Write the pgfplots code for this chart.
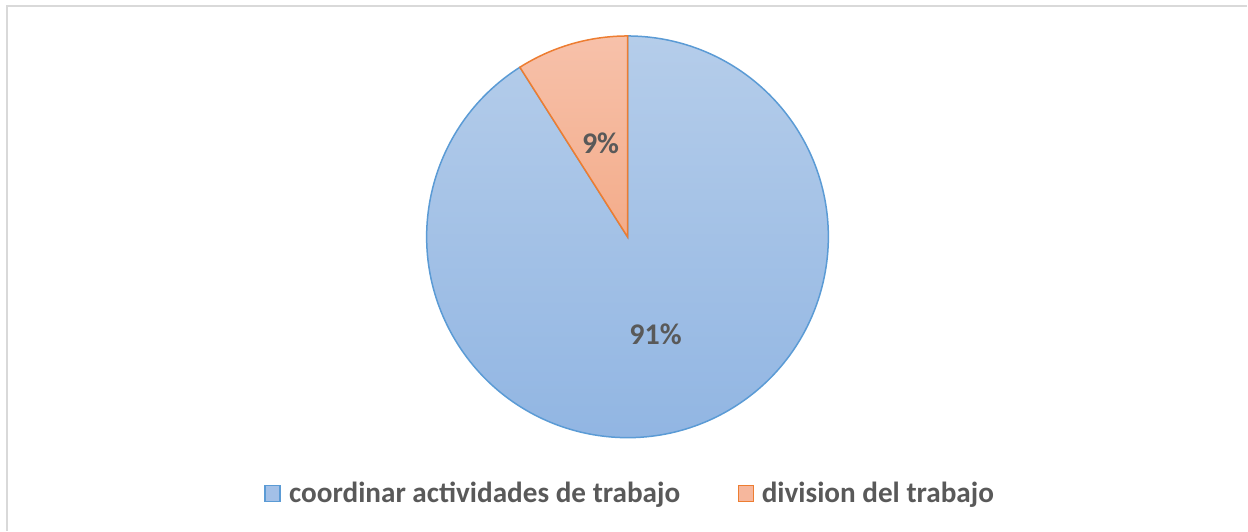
\documentclass[border=0pt]{standalone}
\usepackage{fontspec}
\setmainfont{Carlito}
\usepackage{pgfplots}
\usepackage{pgfplotstable}
\pgfplotsset{compat=1.18}
\definecolor{blueE}{HTML}{5B9BD5}
\definecolor{blueT}{RGB}{181,205,234}
\definecolor{blueB}{RGB}{143,180,226}
\definecolor{blueL}{RGB}{163,192,231}
\definecolor{orE}{HTML}{ED7D31}
\definecolor{orT}{RGB}{247,193,170}
\definecolor{orB}{RGB}{243,172,138}
\definecolor{orL}{RGB}{246,183,157}
\definecolor{txt}{HTML}{595959}
\definecolor{brd}{HTML}{D9D9D9}
\pgfplotstableread{
label value
coord 91
div 9
}\piedata
\pgfplotstablegetelem{0}{value}\of\piedata \let\va\pgfplotsretval
\pgfplotstablegetelem{1}{value}\of\piedata \let\vb\pgfplotsretval
\pgfmathsetmacro{\angB}{90+\vb*360/(\va+\vb)}
\begin{document}
\begin{tikzpicture}
\begin{axis}[width=624pt,height=265.5pt,scale only axis,
  xmin=0,xmax=1248,ymin=0,ymax=531,hide axis,clip=false]
\path (axis cs:0,0) rectangle (axis cs:1248,531);
\draw[brd,line width=1pt] (axis cs:1248,525) -- (axis cs:7,525) -- (axis cs:7,0);
% pie
\path[draw=blueE,line width=0.75pt,top color=blueT,bottom color=blueB]
  (axis cs:628,294) -- ++(\angB:100.5pt) arc[start angle=\angB,end angle=450,radius=100.5pt] -- cycle;
\path[draw=orE,line width=0.75pt,top color=orT,bottom color=orB]
  (axis cs:628,294) -- ++(90:100.5pt) arc[start angle=90,end angle=\angB,radius=100.5pt] -- cycle;
\node[font=\bfseries\fontsize{15}{18}\selectfont,text=txt] at (axis cs:601,388) {\vb\%};
\node[font=\bfseries\fontsize{15}{18}\selectfont,text=txt] at (axis cs:656,196) {\va\%};
% legend
\draw[blueE,line width=0.75pt,fill=blueL] (axis cs:265,29) rectangle (axis cs:280,45);
\node[anchor=base west,inner sep=0pt,font=\bfseries\fontsize{14.6}{17}\selectfont,text=txt] at (axis cs:289,28) {coordinar actividades de trabajo};
\draw[orE,line width=0.75pt,fill=orL] (axis cs:739,29) rectangle (axis cs:754,45);
\node[anchor=base west,inner sep=0pt,font=\bfseries\fontsize{14.6}{17}\selectfont,text=txt] at (axis cs:762,28) {division del trabajo};
\end{axis}
\end{tikzpicture}
\end{document}
